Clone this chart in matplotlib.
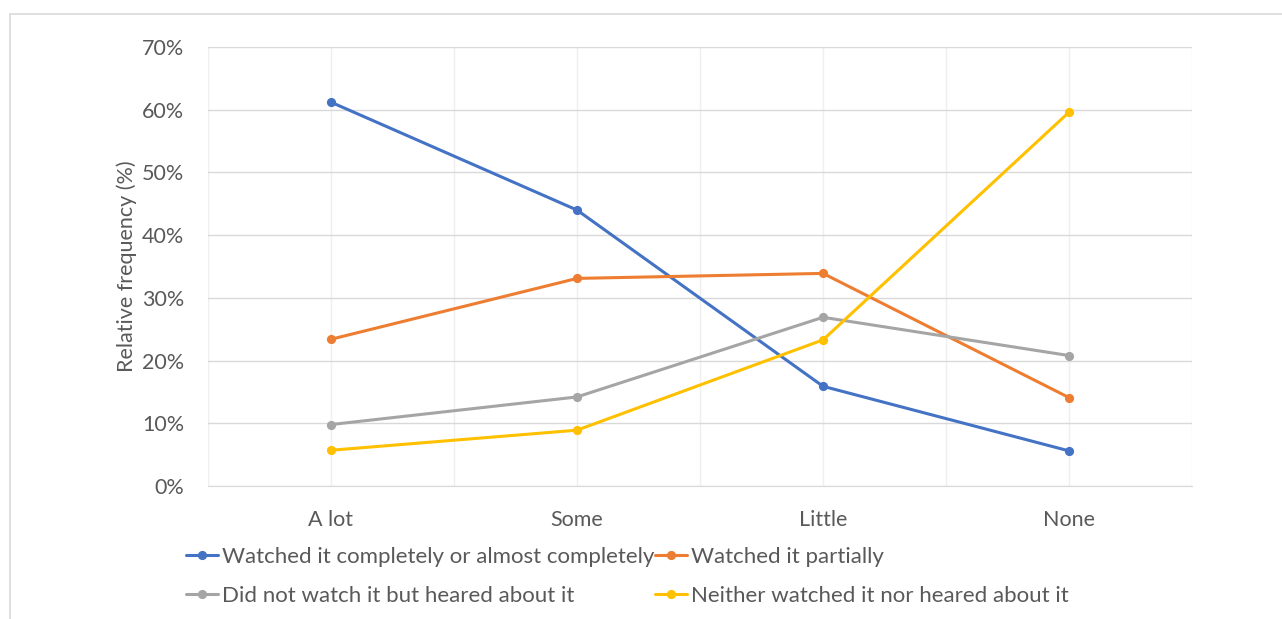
#!/usr/bin/env python3
"""Relative frequency by level of interest, one line per viewing group."""

import matplotlib
matplotlib.use("Agg")
import matplotlib.pyplot as plt
from matplotlib.patches import Rectangle
from matplotlib.ticker import PercentFormatter

categories = ["A lot", "Some", "Little", "None"]
watched_fully = [61.2, 44.0, 15.9, 5.6]
watched_partly = [23.4, 33.1, 33.9, 14.1]
heard_only = [9.8, 14.2, 26.9, 20.8]
neither = [5.7, 8.9, 23.3, 59.6]

series = [
    ("Watched it completely or almost completely", watched_fully, "#4472C4"),
    ("Watched it partially", watched_partly, "#ED7D31"),
    ("Did not watch it but heared about it", heard_only, "#A5A5A5"),
    ("Neither watched it nor heared about it", neither, "#FFC000"),
]

TEXT = "#595959"
plt.rcParams["font.family"] = ["Lato", "DejaVu Sans"]

W, H = 1282, 619
fig = plt.figure(figsize=(W / 100, H / 100), dpi=100)
ax = fig.add_axes([208 / W, 1 - 486 / H, 984 / W, 439 / H])

x = list(range(len(categories)))
handles = []
for label, vals, color in series:
    (ln,) = ax.plot(x, vals, color=color, lw=2.2, marker="o", ms=5.6,
                    label=label, zorder=3, solid_capstyle="round")
    handles.append(ln)

ax.set_xlim(-0.5, len(categories) - 0.5)
ax.set_ylim(0, 70)
ax.set_yticks(range(0, 71, 10))
ax.yaxis.set_major_formatter(PercentFormatter(decimals=0))
ax.set_xticks(x)
ax.set_xticklabels(categories)
ax.set_xticks([i - 0.5 for i in range(len(categories) + 1)], minor=True)

ax.grid(axis="y", color="#d9d9d9", lw=1)
ax.grid(axis="x", which="both", color="#efefef", lw=1)
ax.set_axisbelow(True)
for side in ["top", "left", "right"]:
    ax.spines[side].set_visible(False)
ax.spines["bottom"].set_color("#d9d9d9")
ax.tick_params(which="both", length=0)
ax.tick_params(axis="y", pad=17, labelsize=15.5, labelcolor=TEXT)
ax.tick_params(axis="x", pad=17, labelsize=15.5, labelcolor=TEXT)

fig.text(127 / W, 1 - 266 / H, "Relative frequency (%)", rotation=90,
         ha="center", va="center", fontsize=15.5, color=TEXT)

# legend fills column by column, reference reads row by row
order = [0, 2, 1, 3]
leg = fig.legend(handles=[handles[i] for i in order], ncol=2,
                 loc="upper left", bbox_to_anchor=(186 / W, 1 - 547 / H),
                 frameon=False, fontsize=16, handlelength=1.45,
                 handletextpad=0.15, columnspacing=0.05, labelspacing=0.85,
                 borderpad=0, borderaxespad=0)
for t in leg.get_texts():
    t.set_color(TEXT)

fig.add_artist(Rectangle((10 / W, -0.1), 1.5, 1 - 14 / H + 0.1,
                         transform=fig.transFigure, fill=False,
                         ec="#d9d9d9", lw=1.2))

fig.savefig("out.png", dpi=100)
